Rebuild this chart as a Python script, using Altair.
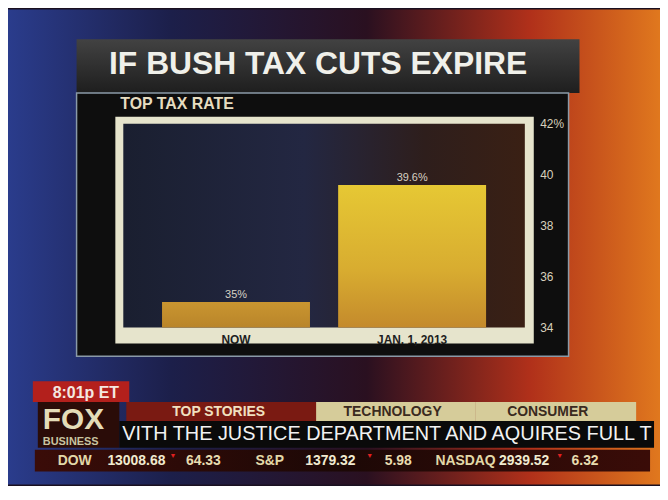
import altair as alt
import pandas as pd

# ---- data ----
categories = ["NOW", "JAN. 1, 2013"]
rates = [35.0, 39.6]
rate_labels = ["35%", "39.6%"]
y_ticks = [34, 36, 38, 40, 42]

chart_title = "IF BUSH TAX CUTS EXPIRE"
chart_subtitle = "TOP TAX RATE"

clock_text = "8:01p ET"
ticker_tabs = ["TOP STORIES", "TECHNOLOGY", "CONSUMER"]
crawl_text = "VITH THE JUSTICE DEPARTMENT AND AQUIRES FULL T"
index_names = ["DOW", "S&P", "NASDAQ"]
index_levels = ["13008.68", "1379.32", "2939.52"]
index_changes = ["64.33", "5.98", "6.32"]

df = pd.DataFrame({"period": categories, "rate": rates, "label": rate_labels})

SANS = "Liberation Sans, Arial, sans-serif"

W, H = 404, 205


def grad(stops, horizontal=False):
    return alt.Gradient(
        gradient="linear",
        stops=[alt.GradientStop(offset=o, color=c) for o, c in stops],
        x1=0, x2=1 if horizontal else 0, y1=0, y2=0 if horizontal else 1,
    )


def rect(x, x2, y, y2, fill, stroke=None, sw=0):
    kw = dict(fill=fill)
    if stroke:
        kw.update(stroke=stroke, strokeWidth=sw)
    return alt.Chart(alt.Data(values=[{}])).mark_rect(**kw).encode(
        x=alt.value(x), x2=alt.value(x2), y=alt.value(y), y2=alt.value(y2)
    )


def label(txt, x, y, size, color, weight="bold", align="left"):
    return alt.Chart(alt.Data(values=[{"t": txt}])).mark_text(
        align=align, baseline="middle", fontSize=size, fontWeight=weight,
        font=SANS, color=color
    ).encode(x=alt.value(x), y=alt.value(y), text="t:N")


layers = []

# TV background
layers.append(rect(-116, 540, -115, 363, grad([
    (0, "#2a3c8c"), (0.25, "#1c1f4a"), (0.55, "#2a1020"),
    (0.8, "#b0301a"), (1, "#e0781e")], horizontal=True)))

# title panel
layers.append(rect(-47, 459, -85, -31, grad([(0, "#424242"), (1, "#1e1e1e")])))
layers.append(label(chart_title, 196, -60, 32, "#f0f0ea", align="center"))

# chart panel
layers.append(rect(-47, 448, -31, 234, "#0e0e0e", stroke="#8a9aa8", sw=1.5))
layers.append(label(chart_subtitle, -3, -20, 16, "#e6dcc0"))

# cream frame and plot interior
layers.append(rect(-8, 413, -7, 221, "#e6e4cc"))
layers.append(rect(0, W, 0, H, grad([
    (0, "#1a1f30"), (0.45, "#232742"), (0.75, "#2e1e1c"), (1, "#3a2014")], horizontal=True)))

# ---- the bars ----
x_enc = alt.X("period:N", sort=categories, title=None,
              scale=alt.Scale(paddingInner=0.16, paddingOuter=0.22),
              axis=alt.Axis(orient="bottom", ticks=False, domain=False, labelAngle=0,
                            labelPadding=7, labelColor="#1e1e1e", labelFontWeight="bold",
                            labelFontSize=12, labelFont=SANS, zindex=1))
y_enc = alt.Y("rate:Q", title=None,
              scale=alt.Scale(domain=[34, 42], zero=False, nice=False),
              axis=alt.Axis(orient="right", values=y_ticks, ticks=False, domain=False,
                            grid=False, labelPadding=15, labelColor="#d8d0bc",
                            labelFontSize=12, labelFont=SANS,
                            labelExpr="datum.value == 42 ? '42%' : datum.label",
                            zindex=1))

base = alt.Chart(df)
layers.append(base.transform_filter(alt.datum.period == categories[0]).mark_bar(
    fill=grad([(0, "#c99530"), (1, "#b9852a")])).encode(x=x_enc, y=y_enc, y2=alt.datum(34)))
layers.append(base.transform_filter(alt.datum.period == categories[1]).mark_bar(
    fill=grad([(0, "#e6c834"), (0.6, "#d8ac30"), (1, "#c48a2c")])).encode(
    x=x_enc, y=y_enc, y2=alt.datum(34)))
layers.append(base.mark_text(baseline="bottom", dy=-2, fontSize=11, font=SANS,
                             color="#d8d2c4").encode(x=x_enc, y=y_enc, text="label:N"))

# ---- ticker decoration ----
layers.append(rect(-91, 6, 259, 280, "#b3201c"))
layers.append(label(clock_text, -71, 271, 16, "#f4e8e0"))

tab_spans = [(3, 198, "#7a1a12", "#f0e0c0"), (194, 354, "#d6cc9a", "#3a2a20"),
             (354, 516, "#d6cc9a", "#3a2a20")]
tab_centers = [96, 271, 427]
for (a, b, fill, tc), cx, name in zip(tab_spans, tab_centers, ticker_tabs):
    layers.append(rect(a, b, 280, 299, fill))
    layers.append(label(name, cx, 290, 14, tc, align="center"))

layers.append(rect(-86, -4, 280, 326, "#2a0c08"))
layers.append(label("FOX", -81, 298, 30, "#e4dcb8"))
layers.append(label("BUSINESS", -81, 320, 11, "#c8c4a0"))

layers.append(rect(-4, 534, 299, 326, "#0a0a0a"))
layers.append(label(crawl_text, -1, 312, 20, "#f2f2f2", weight="normal"))

layers.append(rect(-89, 530, 328, 350, grad([
    (0, "#3a0c08"), (0.5, "#1c0806"), (1, "#3a0c08")], horizontal=True)))
name_x = [-66, 133, 314]
level_x = [-16, 183, 378]
tri_x = [50, 248, 439]
chg_x = [63, 263, 451]
for i in range(3):
    layers.append(label(index_names[i], name_x[i], 339, 14, "#e2d8a8"))
    layers.append(label(index_levels[i], level_x[i], 339, 14, "#f0ead0"))
    layers.append(label("\u25bc", tri_x[i], 334, 7, "#e02020", align="center"))
    layers.append(label(index_changes[i], chg_x[i], 339, 14, "#e8dcb0"))

chart = alt.layer(*layers).properties(
    width=W, height=H,
    autosize=alt.AutoSizeParams(type="none"),
    padding={"left": 116, "top": 115, "right": 136, "bottom": 158},
    background="#1a1020",
).configure_view(stroke=None)

chart.save("out.html", embed_options={"renderer": "svg", "actions": False})
